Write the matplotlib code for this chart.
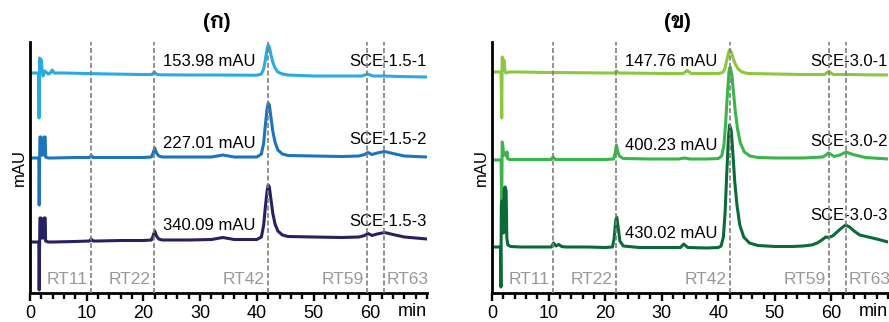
import matplotlib
matplotlib.use("Agg")
import matplotlib.pyplot as plt
from matplotlib.ticker import MultipleLocator

plt.rcParams['font.family'] = ['Liberation Sans', 'DejaVu Sans']

# ---- data (time in min, signal in arbitrary units) ----
titles = ["(ก)", "(ข)"]
sample_names = [["SCE-1.5-1", "SCE-1.5-2", "SCE-1.5-3"],
                ["SCE-3.0-1", "SCE-3.0-2", "SCE-3.0-3"]]
max_labels = [["153.98 mAU", "227.01 mAU", "340.09 mAU"],
              ["147.76 mAU", "400.23 mAU", "430.02 mAU"]]
rt_names = ["RT11", "RT22", "RT42", "RT59", "RT63"]
rt_lines = [[10.7, 21.9, 41.9, 59.5, 62.5],
            [10.8, 22.0, 42.0, 59.6, 62.6]]
colors = [["#29abe2", "#1c75bc", "#262262"],
          ["#8dc63f", "#39b54a", "#0b6b38"]]

# panel (ก)
a1_t = [0, 1.5, 1.6, 1.7, 1.8, 1.9, 2.0, 2.1, 2.3, 2.6, 3.2, 3.6, 3.9, 4.3, 6, 10, 14, 20,
        21.5, 21.9, 22.4, 23, 28, 33, 38, 40, 40.8, 41.2, 41.5, 41.8, 42.0, 42.2, 42.5,
        42.8, 43.2, 43.7, 44.5, 45.5, 50, 55, 58.5, 59.5, 60.5, 62.5, 65, 70]
a1_y = [220, 220, 175, 235, 234, 222, 233, 225, 217, 222, 219, 220, 223, 220, 220, 219.5,
        219, 218.5, 218.5, 221, 218.5, 218.2, 218, 218, 217.8, 217.8, 219, 224, 233, 244,
        248, 246, 238, 231, 225, 221, 219, 218, 217, 217, 217, 219, 217, 217, 216.5, 216]

a2_t = [0, 1.55, 1.62, 1.70, 1.75, 1.92, 1.98, 2.4, 2.47, 2.68, 2.75, 3.2, 4, 8, 10.5,
        10.8, 11.1, 12, 16, 20, 21.4, 21.7, 22.0, 22.3, 22.7, 23.3, 28, 32, 34, 36, 40,
        40.8, 41.2, 41.5, 41.8, 42.0, 42.2, 42.5, 42.8, 43.2, 43.7, 44.5, 45.5, 50, 55,
        58, 59.0, 59.6, 60.3, 61.2, 62.5, 64, 66, 70]
a2_y = [135, 135, 88, 135, 156, 156, 138, 138, 156, 156, 136, 135, 135, 135.5, 135.5,
        137.5, 135.5, 135.5, 135.5, 135.5, 136, 140, 145, 140, 137, 136, 136, 136, 138,
        136, 136, 139, 150, 168, 184, 190, 188, 175, 162, 151, 143, 139, 137.5, 137,
        136.5, 137, 138.5, 140.5, 138.5, 140, 141.5, 139.5, 137, 136]

a3_t = a2_t
a3_y = [51, 51, 3, 51, 75, 75, 55, 55, 75, 75, 52, 51, 51, 51.5, 52, 54, 52, 52, 52.5,
        52.5, 53, 57, 62, 57, 54, 53, 53, 53.5, 55.5, 53.5, 53.5, 56, 68, 86, 102, 108,
        106, 93, 80, 69, 62, 58, 56.5, 56, 55.5, 56, 57.5, 59.5, 57.5, 59, 60.5, 58.5,
        56, 54]

# panel (ข)
b1_t = [0, 1.6, 1.72, 1.8, 1.88, 2.0, 2.1, 2.2, 2.3, 2.45, 3, 5, 10, 15, 20, 21.7, 22.0,
        22.4, 26, 30, 33.8, 34.5, 35.2, 38, 40, 40.8, 41.2, 41.5, 41.8, 42.0, 42.3, 42.6,
        43.0, 43.5, 44.2, 45.2, 50, 55, 58.8, 59.5, 60.3, 63, 66, 70]
b1_y = [221, 221, 175, 236, 235, 224, 233, 228, 222, 220, 221, 221, 220.5, 220.3, 220,
        220, 222, 220, 219.8, 219.5, 219.5, 222.5, 219.5, 219.5, 219.5, 220.5, 225, 233,
        240, 243, 241, 235, 229, 224, 221, 219.5, 219, 218.5, 218.5, 221.5, 218.5, 218.5,
        218.2, 218]

b2_t = [0, 1.6, 1.72, 1.8, 1.9, 2.05, 2.3, 2.5, 2.65, 2.8, 3.2, 5, 10.4, 10.8, 11.2, 15,
        20, 21.5, 21.8, 22.0, 22.2, 22.5, 23.2, 28, 33, 34, 35, 38, 40, 40.6, 41.0, 41.3,
        41.6, 41.9, 42.1, 42.4, 42.7, 43.0, 43.4, 43.9, 44.6, 45.6, 47, 50, 55, 58.5,
        59.5, 60.5, 61.5, 62.6, 63.8, 66, 70]
b2_y = [133, 133, 91, 151, 148, 138, 140, 137, 141, 134, 133.5, 133.5, 133.5, 136, 133.5,
        133.5, 133.5, 134, 141, 148, 142, 137, 134.5, 134, 134, 135, 134, 134, 134.5, 137,
        148, 170, 198, 222, 226, 218, 200, 182, 164, 150, 141, 137, 135.5, 135, 135, 136,
        140, 136.5, 138, 141, 138.5, 135.5, 134]

b3_t = [0, 1.5, 1.58, 1.65, 1.72, 1.95, 2.05, 2.15, 2.3, 2.5, 2.62, 2.8, 3.3, 5, 8, 10.5,
        10.9, 11.3, 11.8, 12.3, 13, 17, 20, 21.3, 21.6, 21.85, 22.05, 22.3, 22.6, 23.2, 26,
        30, 33.3, 33.9, 34.6, 38, 40, 40.5, 40.9, 41.2, 41.5, 41.8, 42.0, 42.3, 42.6, 42.9,
        43.3, 43.8, 44.5, 45.5, 47, 50, 53, 55, 56.5, 57.5, 58.3, 59.0, 59.5, 60.2, 61.0,
        61.8, 62.5, 63.2, 64.0, 65.0, 66.5, 68, 70]
b3_y = [46, 46, 6, 88, 92, 90, 60, 104, 106, 102, 55, 48, 46.5, 46, 46, 46, 50, 47, 48.5,
        46.5, 46, 46, 45.5, 46, 55, 72, 76, 66, 52, 47, 45.5, 45.5, 45.5, 49, 45.5, 45,
        45.5, 47, 56, 80, 120, 156, 168, 162, 138, 112, 88, 68, 56, 50, 47.5, 46.5, 46.5,
        47, 48, 50, 53, 56, 55.5, 57, 61, 65, 68, 66, 62, 58, 56, 54, 51]

traces = [[(a1_t, a1_y), (a2_t, a2_y), (a3_t, a3_y)],
          [(b1_t, b1_y), (b2_t, b2_y), (b3_t, b3_y)]]
# label heights (same units as the traces)
max_label_y = [[232, 150, 67], [232, 148, 60]]
name_label_y = [[231, 154, 71], [231, 151, 77]]

fig = plt.figure(figsize=(8.89, 3.22), dpi=100)
W, H = 889, 322
axes_px = [(30, 397), (492, 396)]   # left edge, width in pixels
title_x = [217, 677]

for p in range(2):
    x0, w = axes_px[p]
    ax = fig.add_axes([x0 / W, 29 / H, w / W, 251 / H])
    for (t, y), c in zip(traces[p], colors[p]):
        ax.plot(t, y, color=c, lw=2.2, solid_joinstyle='round', zorder=2)

    for i, xv in enumerate(rt_lines[p]):
        ax.axvline(xv, color='#7f7f7f', lw=1.2, ls=(0, (3.0, 1.5)), zorder=4)
        if i == 4:
            ax.text(xv + 0.4, 13, rt_names[i], color='#999999', fontsize=12.5,
                    ha='left', va='center', zorder=3)
        else:
            ax.text(xv - 0.6, 13, rt_names[i], color='#999999', fontsize=12.5,
                    ha='right', va='center', zorder=3)

    for j in range(3):
        ax.text(39.8, max_label_y[p][j], max_labels[p][j], fontsize=12,
                ha='right', va='center', zorder=3)
        ax.text(69.9, name_label_y[p][j], sample_names[p][j], fontsize=12,
                ha='right', va='center', zorder=3)

    ax.set_xlim(0, 70)
    ax.set_ylim(0, 251)
    ax.set_yticks([])
    ax.xaxis.set_major_locator(MultipleLocator(10))
    ax.xaxis.set_minor_locator(MultipleLocator(2))
    ax.set_xticks(range(0, 70, 10))
    ax.tick_params(axis='x', which='major', length=5.5, width=1.7, labelsize=13, pad=3)
    ax.tick_params(axis='x', which='minor', length=4, width=1.7)
    for s in ['top', 'right']:
        ax.spines[s].set_visible(False)
    for s in ['left', 'bottom']:
        ax.spines[s].set_linewidth(2.0)
    ax.set_ylabel("mAU", fontsize=12, labelpad=2)
    ax.text(67.4, -0.072, "min", transform=ax.get_xaxis_transform(), fontsize=13,
            ha='center', va='center')

    fig.text(title_x[p] / W, 1 - 22 / H, titles[p], fontsize=15, fontweight='bold',
             ha='center', va='center', family=['Liberation Sans', 'Niramit'])

fig.savefig("out.png", dpi=100)
